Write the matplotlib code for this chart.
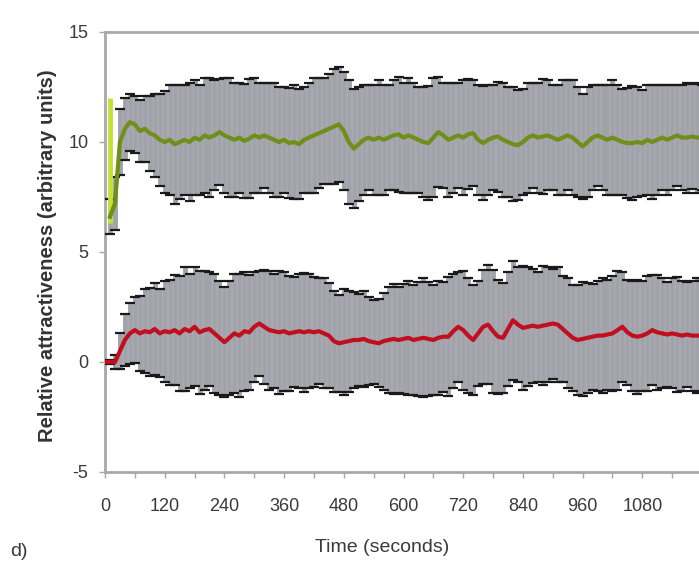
import numpy as np
import matplotlib
matplotlib.use("Agg")
import matplotlib.pyplot as plt

# time axis, one sample every 10 s
time = np.arange(0, 1201, 10)

red_mean = [
    0.0, 0.0, 0.0, 0.5, 1.0, 1.3, 1.45, 1.3, 1.4, 1.35,
    1.5, 1.3, 1.4, 1.35, 1.45, 1.3, 1.5, 1.4, 1.6, 1.35,
    1.45, 1.5, 1.3, 1.1, 0.9, 1.1, 1.3, 1.2, 1.4, 1.35,
    1.6, 1.75, 1.6, 1.45, 1.4, 1.35, 1.4, 1.3, 1.35, 1.4,
    1.35, 1.4, 1.35, 1.4, 1.3, 1.2, 0.95, 0.85, 0.9, 0.95,
    1.0, 1.0, 1.05, 0.95, 0.9, 0.85, 0.95, 1.0, 1.05, 1.0,
    1.05, 1.1, 1.0, 1.05, 1.1, 1.05, 1.0, 1.1, 1.15, 1.15,
    1.4, 1.6, 1.45, 1.2, 1.0, 1.3, 1.6, 1.7, 1.4, 1.15,
    1.1, 1.5, 1.9, 1.7, 1.55, 1.6, 1.65, 1.6, 1.65, 1.7,
    1.75, 1.7, 1.5, 1.3, 1.1, 1.0, 1.05, 1.1, 1.15, 1.2,
    1.2, 1.25, 1.3, 1.45, 1.6, 1.35, 1.2, 1.15, 1.2, 1.3,
    1.45, 1.35, 1.3, 1.25, 1.3, 1.25, 1.2, 1.25, 1.2, 1.2,
    1.2,
]
red_sd = [
    0.0, 0.1, 0.3, 0.8, 1.2, 1.4, 1.5, 1.7, 1.9, 2.0,
    2.1, 2.0, 2.3, 2.4, 2.5, 2.6, 2.8, 2.6, 2.7, 2.8,
    2.7, 2.6, 2.7, 2.6, 2.5, 2.6, 2.7, 2.8, 2.7, 2.6,
    2.5, 2.4, 2.6, 2.7, 2.6, 2.8, 2.7, 2.6, 2.5, 2.6,
    2.7, 2.6, 2.5, 2.4, 2.5, 2.4, 2.3, 2.2, 2.4, 2.3,
    2.2, 2.1, 2.2, 2.0, 1.9, 2.0, 2.2, 2.4, 2.5, 2.4,
    2.5, 2.6, 2.5, 2.6, 2.7, 2.6, 2.5, 2.6, 2.5, 2.7,
    2.6, 2.5, 2.7, 2.6, 2.5, 2.4, 2.6, 2.7, 2.8, 2.6,
    2.5, 2.6, 2.7, 2.6, 2.8, 2.7, 2.6, 2.5, 2.7, 2.6,
    2.5, 2.6, 2.4, 2.5, 2.4, 2.5, 2.6, 2.5, 2.4, 2.5,
    2.6, 2.5, 2.6, 2.7, 2.5, 2.4, 2.5, 2.6, 2.5, 2.6,
    2.5, 2.6, 2.5, 2.4, 2.5, 2.6, 2.5, 2.4, 2.5, 2.6,
    2.5,
]

green_mean = [
    np.nan, 6.6, 7.2, 10.0, 10.6, 10.9, 10.8, 10.5, 10.6, 10.4,
    10.3, 10.1, 10.0, 10.1, 9.9, 10.0, 10.1, 10.0, 10.2, 10.1,
    10.3, 10.2, 10.3, 10.45, 10.3, 10.2, 10.1, 10.2, 10.05, 10.15,
    10.3, 10.2, 10.3, 10.2, 10.1, 10.0, 10.1, 9.95, 10.0, 9.9,
    10.1, 10.2, 10.3, 10.4, 10.5, 10.6, 10.7, 10.8, 10.5, 10.0,
    9.7, 9.9, 10.1, 10.2, 10.1, 10.2, 10.1, 10.2, 10.3, 10.35,
    10.2, 10.3, 10.2, 10.1, 10.0, 9.95, 10.2, 10.45, 10.3, 10.1,
    10.2, 10.3, 10.2, 10.35, 10.4, 10.1, 9.95, 10.1, 10.2, 10.25,
    10.1, 10.0, 9.9, 9.85, 10.0, 10.2, 10.3, 10.2, 10.25, 10.3,
    10.2, 10.1, 10.2, 10.3, 10.2, 10.0, 9.8, 10.0, 10.2, 10.3,
    10.2, 10.1, 10.2, 10.1, 10.0, 9.95, 9.95, 10.0, 9.95, 10.1,
    10.0, 10.1, 10.2, 10.1, 10.2, 10.3, 10.2, 10.2, 10.25, 10.2,
    10.2,
]
green_sd = [
    np.nan, 0.8, 1.2, 1.5, 1.4, 1.3, 1.3, 1.4, 1.5, 1.7,
    1.9, 2.1, 2.3, 2.5, 2.7, 2.6, 2.5, 2.7, 2.6, 2.5,
    2.6, 2.7, 2.5, 2.4, 2.6, 2.7, 2.6, 2.5, 2.6, 2.7,
    2.6, 2.5, 2.4, 2.5, 2.6, 2.5, 2.4, 2.5, 2.6, 2.5,
    2.4, 2.5, 2.6, 2.5, 2.4, 2.5, 2.6, 2.6, 2.7, 2.8,
    2.7, 2.6, 2.5, 2.4, 2.5, 2.6, 2.5, 2.4, 2.5, 2.6,
    2.5, 2.6, 2.5, 2.4, 2.5, 2.6, 2.7, 2.5, 2.4, 2.6,
    2.5, 2.4, 2.6, 2.5, 2.4, 2.5, 2.6, 2.5, 2.4, 2.5,
    2.6, 2.5, 2.6, 2.5, 2.4, 2.5, 2.4, 2.5, 2.6, 2.5,
    2.4, 2.5, 2.6, 2.5, 2.6, 2.5, 2.4, 2.5, 2.4, 2.3,
    2.4, 2.5, 2.6, 2.5, 2.4, 2.5, 2.6, 2.5, 2.4, 2.5,
    2.6, 2.5, 2.4, 2.5, 2.4, 2.3, 2.4, 2.5, 2.4, 2.5,
    2.4,
]
# bright first green error bar (low, high)
green_first = (6.3, 12.0)

xticks = np.arange(0, 1201, 60)
xlabels = [str(t) if t % 120 == 0 and t < 1200 else "" for t in xticks]
yticks = [-5, 0, 5, 10, 15]

plt.rcParams["font.family"] = ["Liberation Sans", "DejaVu Sans"]
plt.rcParams["axes.unicode_minus"] = False

fig = plt.figure(figsize=(6.99, 5.63), dpi=100)
ax = fig.add_axes([105 / 699, 91 / 563, 597 / 699, 440 / 563])

bar_grey = "#a2a2aa"
for mean, sd in ((green_mean, green_sd), (red_mean, red_sd)):
    _, caps, bars = ax.errorbar(time, mean, yerr=sd, fmt="none", ecolor=bar_grey,
                                elinewidth=3.5, capsize=3.5, capthick=1.6, zorder=2)
    for c in caps:
        c.set_markeredgecolor("#1a1a1a")
        c.set_zorder(3)

ax.vlines(time[1], green_first[0], green_first[1], color="#c2e03a", linewidth=3.5, zorder=4)

ax.plot(time, green_mean, color="#6f8f1a", linewidth=3, zorder=5)
ax.plot(time, red_mean, color="#c01020", linewidth=3, zorder=5)

ax.set_xlim(0, 1200)
ax.set_ylim(-5, 15)
ax.set_xticks(xticks)
ax.set_xticklabels(xlabels)
ax.set_yticks(yticks)

for side in ("left", "bottom", "top", "right"):
    ax.spines[side].set_color("#a8a8a8")
    ax.spines[side].set_linewidth(2)

ax.tick_params(axis="x", direction="out", length=4, width=1, color="#a8a8a8",
               labelsize=13, labelcolor="#3a3a3a", pad=15)
ax.tick_params(axis="y", direction="out", length=4, width=1, color="#a8a8a8",
               labelsize=13, labelcolor="#3a3a3a", pad=8)

fig.text(48 / 699, 1 - 256 / 563, "Relative attractiveness (arbitrary units)", rotation=90,
         ha="center", va="center", fontsize=14.5, fontweight="bold", color="#333333")
fig.text(382 / 699, 1 - 548 / 563, "Time (seconds)", ha="center", va="center",
         fontsize=14, color="#3a3a3a")
fig.text(10 / 699, 1 - 551 / 563, "d)", ha="left", va="center", fontsize=14, color="#3a3a3a")

fig.savefig("out.png", dpi=100)
